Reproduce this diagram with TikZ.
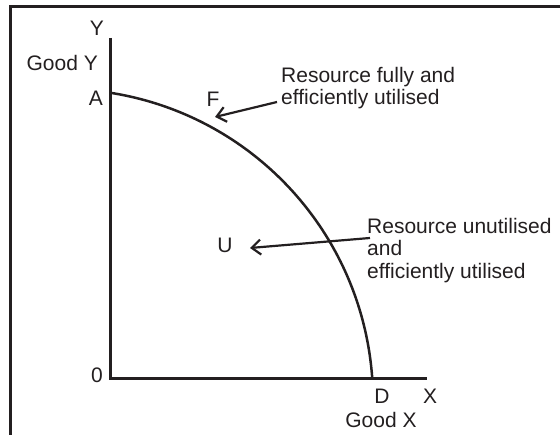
\documentclass[tikz,border=0pt]{standalone}
\usepackage{fontspec}
\setmainfont{Liberation Sans}
\usetikzlibrary{arrows.meta}
\definecolor{ink}{HTML}{231F20}
\begin{document}
\begin{tikzpicture}[x=1pt,y=1pt,
    every node/.style={text=ink,font=\fontsize{21}{22.5}\selectfont},
    lbl/.style={align=left,inner sep=0pt,anchor=north west},
    >={Straight Barb[length=9pt,width=15pt]}]
        \useasboundingbox (0,0) rectangle (560,435);

        % Frame
        \draw[ink,line width=3pt] (10,0) -- (10,428.7) -- (560,428.7);

        % Axes
        \coordinate (O) at (110,56);
        \coordinate (ytop) at (110,397);
        \coordinate (xend) at (427,56);
        \draw[ink,line width=3pt] (ytop) -- (O) -- (xend);

        % Production possibility curve from A to D
        \coordinate (C) at (62,35);
        \draw[ink,line width=2.5pt] (C) ++(80.75:311) coordinate (A)
            arc[start angle=80.75,end angle=3.9,radius=311] coordinate (D);

        % Axis labels
        \node (ylab) at (97,407) {Y};
        \node[anchor=east,inner sep=0pt] (goody) at (98,372) {Good Y};
        \node (alab) at (96,337) {A};
        \node (zero) at (97,60) {0};
        \node (dlab) at (382,39) {D};
        \node (xlab) at (430,39) {X};
        \node (goodx) at (381,15) {Good X};

        % Points F and U
        \node (flab) at (213,336) {F};
        \node (ulab) at (225,190) {U};

        % Notes with arrows
        \node[lbl] (fulltxt) at (281,368) {Resource fully and\\efficiently utilised};
        \coordinate (ftail) at (277,333);
        \coordinate (ftip) at (215,318);
        \draw[->,ink,line width=2.2pt] (ftail) -- (ftip);

        \node[lbl] (unusedtxt) at (367,217) {Resource unutilised\\and\\efficiently utilised};
        \coordinate (utail) at (370,197);
        \coordinate (utip) at (250,187);
        \draw[->,ink,line width=2.2pt] (utail) -- (utip);
\end{tikzpicture}
\end{document}
